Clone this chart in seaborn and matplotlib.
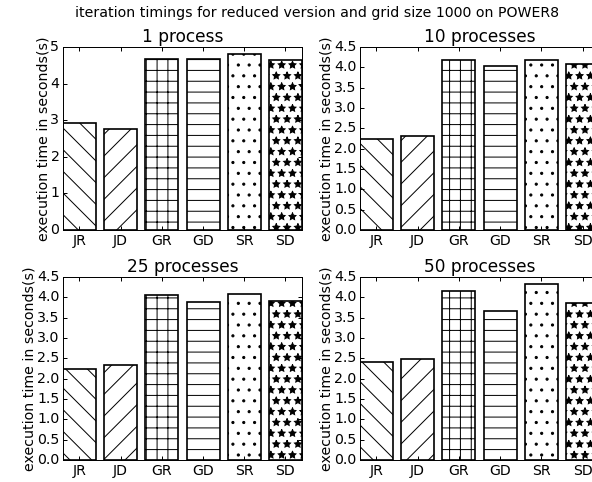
import matplotlib
matplotlib.use("Agg")
import matplotlib.pyplot as plt
import seaborn as sns

# data
labels = ["JR", "JD", "GR", "GD", "SR", "SD"]
hatches = ["\\", "/", "+", "-", ".", "*"]
titles = ["1 process", "10 processes", "25 processes", "50 processes"]
t_1 = [2.91, 2.77, 4.68, 4.68, 4.81, 4.65]
t_10 = [2.23, 2.32, 4.17, 4.04, 4.17, 4.07]
t_25 = [2.25, 2.33, 4.05, 3.89, 4.07, 3.90]
t_50 = [2.41, 2.48, 4.16, 3.67, 4.34, 3.87]
ylims = [5, 4.5, 4.5, 4.5]

plt.style.use("classic")
plt.rcParams["font.family"] = ["DejaVu Sans"]
plt.rcParams["hatch.linewidth"] = 1.1
plt.rcParams["axes.linewidth"] = 1.1
plt.rcParams["xtick.major.size"] = 4.9
plt.rcParams["ytick.major.size"] = 4.9
plt.rcParams["xtick.major.width"] = 1.1
plt.rcParams["ytick.major.width"] = 1.1

# low dpi so the hatch cells come out as dense as in the reference
DPI = 65
fig = plt.figure(figsize=(592 / DPI, 482 / DPI), dpi=DPI)
fig.patch.set_facecolor("white")

# axes placed by hand; the right column runs past the figure edge like the original crop
positions = [
    [0.1064, 0.5228, 0.4037, 0.3797],
    [0.6081, 0.5228, 0.4037, 0.3797],
    [0.1064, 0.0456, 0.4037, 0.3797],
    [0.6081, 0.0456, 0.4037, 0.3797],
]

for pos, vals, title, ytop in zip(positions, [t_1, t_10, t_25, t_50], titles, ylims):
    ax = fig.add_axes(pos)
    sns.barplot(x=labels, y=vals, color="white", saturation=1, edgecolor="black",
                linewidth=1.85, width=0.8, ax=ax)
    for patch, h in zip(ax.patches, hatches):
        patch.set_hatch(h)
    ax.set_xlim(-0.4, 5.4)
    ax.set_ylim(0, ytop)
    ax.set_title(title, fontsize=18.8)
    ax.set_ylabel("execution time in seconds(s)", fontsize=15.6, labelpad=0)
    ax.set_xlabel("")
    ax.tick_params(labelsize=15.6)

fig.text(0.536, 0.973, "iteration timings for reduced version and grid size 1000 on POWER8",
         ha="center", va="center", fontsize=15.6)

fig.savefig("out.png", dpi=DPI, facecolor="white")
